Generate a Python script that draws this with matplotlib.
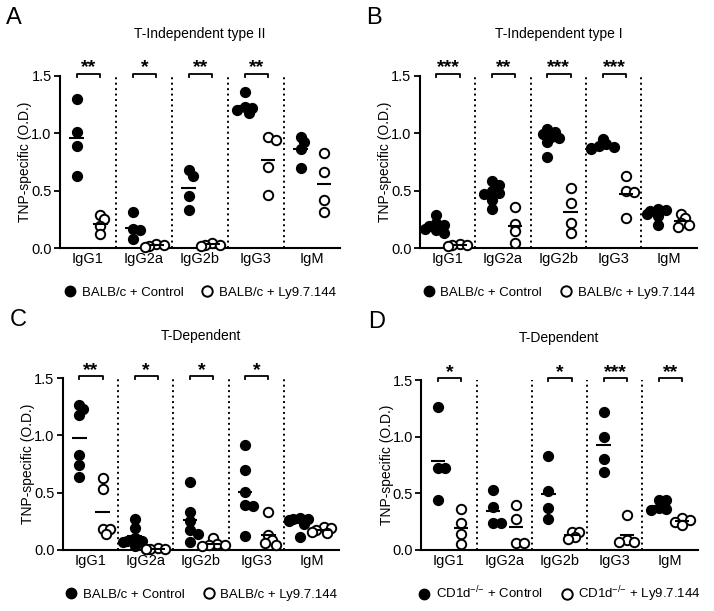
import numpy as np
import matplotlib.pyplot as plt
from matplotlib.lines import Line2D

plt.rcParams['font.family'] = ['Liberation Sans', 'DejaVu Sans']
plt.rcParams['mathtext.default'] = 'regular'

isotypes = ["IgG1", "IgG2a", "IgG2b", "IgG3", "IgM"]

# Panel A: T-Independent type II
a_ctrl = [[1.30, 1.01, 0.89, 0.63],
          [0.31, 0.165, 0.16, 0.08],
          [0.68, 0.63, 0.455, 0.33],
          [1.36, 1.23, 1.22, 1.20, 1.18],
          [0.97, 0.92, 0.86, 0.70]]
a_ly = [[0.29, 0.25, 0.19, 0.12],
        [0.035, 0.03, 0.015, 0.01],
        [0.045, 0.03, 0.03, 0.02],
        [0.97, 0.94, 0.71, 0.46],
        [0.83, 0.66, 0.42, 0.31]]
a_stars = ["**", "*", "**", "**", ""]

# Panel B: T-Independent type I
b_ctrl = [[0.29, 0.22, 0.20, 0.19, 0.17, 0.16, 0.13],
          [0.58, 0.55, 0.50, 0.48, 0.47, 0.42, 0.34],
          [1.04, 1.01, 0.99, 0.97, 0.96, 0.92, 0.79],
          [0.95, 0.91, 0.89, 0.88, 0.87, 0.86],
          [0.34, 0.33, 0.32, 0.30, 0.28, 0.20]]
b_ly = [[0.035, 0.03, 0.03, 0.02],
        [0.36, 0.21, 0.145, 0.04],
        [0.52, 0.39, 0.22, 0.13],
        [0.63, 0.50, 0.49, 0.26],
        [0.30, 0.26, 0.22, 0.20, 0.18]]
b_stars = ["***", "**", "***", "***", ""]

# Panel C: T-Dependent (BALB/c)
c_ctrl = [[1.27, 1.23, 1.175, 0.83, 0.745, 0.64],
          [0.27, 0.19, 0.10, 0.08, 0.08, 0.07, 0.03],
          [0.59, 0.33, 0.25, 0.17, 0.14, 0.07],
          [0.92, 0.70, 0.51, 0.39, 0.38, 0.12],
          [0.28, 0.27, 0.27, 0.26, 0.25, 0.23, 0.11]]
c_ly = [[0.63, 0.53, 0.18, 0.18, 0.14],
        [0.02, 0.01, 0.01, 0.01, 0.005],
        [0.10, 0.05, 0.04, 0.04, 0.03],
        [0.33, 0.13, 0.09, 0.06, 0.04],
        [0.20, 0.19, 0.17, 0.16, 0.15]]
c_stars = ["**", "*", "*", "*", ""]

# Panel D: T-Dependent (CD1d-/-)
d_ctrl = [[1.26, 0.72, 0.72, 0.44],
          [0.53, 0.38, 0.24, 0.24],
          [0.83, 0.52, 0.37, 0.27],
          [1.22, 1.00, 0.80, 0.69],
          [0.44, 0.44, 0.37, 0.36, 0.35]]
d_ly = [[0.36, 0.24, 0.14, 0.05],
        [0.40, 0.27, 0.065, 0.06],
        [0.16, 0.16, 0.11, 0.095],
        [0.31, 0.09, 0.07, 0.07],
        [0.28, 0.26, 0.25, 0.22]]
d_stars = ["*", "", "*", "***", "**"]

panels = [
    ("A", "T-Independent type II", a_ctrl, a_ly, a_stars, "BALB/c", [0.084, 0.594, 0.392, 0.282]),
    ("B", "T-Independent type I", b_ctrl, b_ly, b_stars, "BALB/c", [0.588, 0.594, 0.388, 0.282]),
    ("C", "T-Dependent", c_ctrl, c_ly, c_stars, "BALB/c", [0.088, 0.100, 0.387, 0.281]),
    ("D", "T-Dependent", d_ctrl, d_ly, d_stars, "CD1d$^{{-}/{-}}$", [0.590, 0.100, 0.387, 0.278]),
]

W, H = 714, 611
D_PX = 9.5  # marker diameter in pixels


def swarm(vals, center, xpx, ypx):
    """simple beeswarm: spread points sideways when they overlap"""
    vals = np.asarray(vals)
    out = np.zeros(len(vals))
    placed = []
    for i in np.argsort(vals)[::-1]:
        y = vals[i] * ypx
        x = 0.0
        for k in [0, 1, -1, 2, -2, 3, -3]:
            x = k * D_PX * 0.4
            if all(np.hypot(x - px, y - py) >= D_PX * 0.62 for px, py in placed):
                break
        placed.append((x, y))
        out[i] = center + x / xpx
    return out


fig = plt.figure(figsize=(W / 100, H / 100), dpi=100)

for letter, title, ctrl, ly, stars, strain, rect in panels:
    ax = fig.add_axes(rect)
    xpx = rect[2] * W / 5.0
    ypx = rect[3] * H / 1.5
    ax.set_xlim(-0.5, 4.5)
    ax.set_ylim(0, 1.5)

    for i in range(len(isotypes)):
        if i > 0:
            ax.axvline(i - 0.5, 0, 1, color="black", lw=1.4, ls=(0, (1, 1.8)))
        xc = swarm(ctrl[i], i - 0.2, xpx, ypx)
        xo = swarm(ly[i], i + 0.22, xpx, ypx)
        ax.scatter(xc, ctrl[i], s=50, color="black", zorder=3, clip_on=False)
        ax.scatter(xo, ly[i], s=46, facecolor="white", edgecolor="black",
                   linewidth=1.4, zorder=3, clip_on=False)
        ax.hlines(np.mean(ctrl[i]), i - 0.2 - 0.13, i - 0.2 + 0.13, color="black", lw=1.5, zorder=4)
        ax.hlines(np.mean(ly[i]), i + 0.22 - 0.13, i + 0.22 + 0.13, color="black", lw=1.5, zorder=4)
        if stars[i]:
            bx = [i - 0.2, i - 0.2, i + 0.22, i + 0.22]
            by = [1.49, 1.515, 1.515, 1.49]
            ax.plot(bx, by, color="black", lw=1.3, clip_on=False)
            ax.text(i + 0.01, 1.53, stars[i], ha="center", va="baseline",
                    fontsize=14, fontweight="bold")

    for s in ["top", "right"]:
        ax.spines[s].set_visible(False)
    ax.spines["left"].set_linewidth(1.5)
    ax.spines["bottom"].set_linewidth(1.5)
    ax.set_xticks(range(len(isotypes)))
    ax.set_xticklabels(isotypes, fontsize=10.5)
    ax.tick_params(axis="x", length=0, pad=3)
    ax.set_yticks([0, 0.5, 1.0, 1.5])
    ax.set_yticklabels(["0.0", "0.5", "1.0", "1.5"], fontsize=10.5)
    ax.tick_params(axis="y", length=4, width=1.3, pad=2)
    ax.text(-0.125, 0.5, "TNP-specific (O.D.)", rotation=90, ha="center",
            va="center", fontsize=10, transform=ax.transAxes)

    ax.text(0.5, 1.245, title, ha="center", va="center", fontsize=10,
            transform=ax.transAxes)
    fig.text(rect[0] - 0.075, rect[1] + rect[3] + 0.095, letter, fontsize=17,
             ha="left", va="center")

    handles = [
        Line2D([], [], marker="o", ls="", color="black", markersize=7.5),
        Line2D([], [], marker="o", ls="", markerfacecolor="white",
               markeredgecolor="black", markeredgewidth=1.4, markersize=7.5),
    ]
    ax.legend(handles, [strain + " + Control", strain + " + Ly9.7.144"],
              loc="center", bbox_to_anchor=(0.5, -0.26), ncol=2, frameon=False,
              fontsize=9.5, handletextpad=0.4, columnspacing=1.3,
              handlelength=1.0, borderaxespad=0)

fig.savefig("out.png", dpi=100)
